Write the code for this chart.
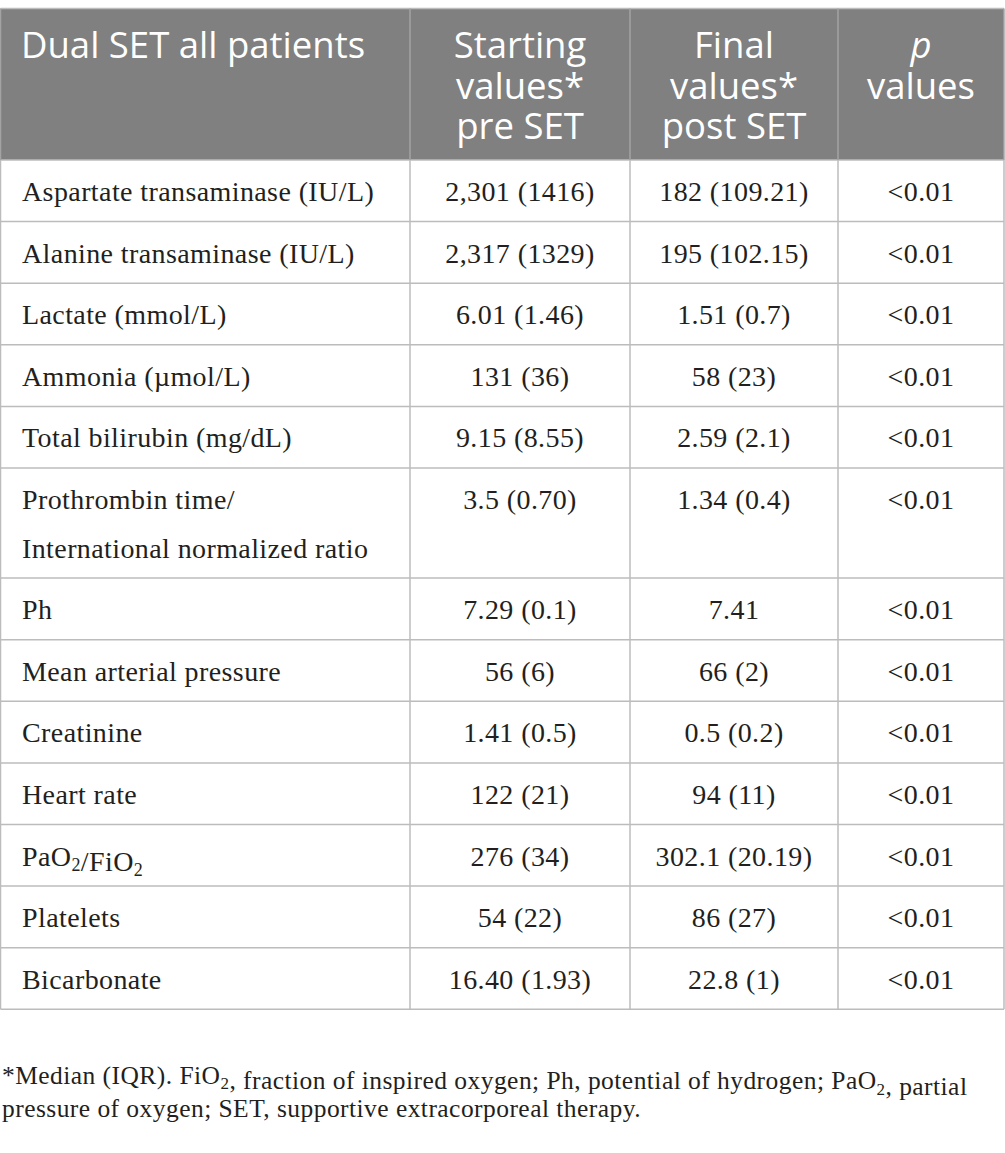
<!DOCTYPE html>
<html>
<head>
<meta charset="utf-8">
<script src="https://cdn.jsdelivr.net/npm/d3@7"></script>
<style>
  body { margin: 0; background: #fff; }
  svg { display: block; }
</style>
</head>
<body>
<div id="main-table"></div>
<script>
// table content
const headerLabels = [
  ["Dual SET all patients"],
  ["Starting", "values*", "pre SET"],
  ["Final", "values*", "post SET"],
  ["*p*", "values"],
];

// {2} marks a subscript 2
const parameters = [
  "Aspartate transaminase (IU/L)",
  "Alanine transaminase (IU/L)",
  "Lactate (mmol/L)",
  "Ammonia (µmol/L)",
  "Total bilirubin (mg/dL)",
  "Prothrombin time/\nInternational normalized ratio",
  "Ph",
  "Mean arterial pressure",
  "Creatinine",
  "Heart rate",
  "PaO{2}/FiO{2}",
  "Platelets",
  "Bicarbonate",
];

const startValues = [
  "2,301 (1416)", "2,317 (1329)", "6.01 (1.46)", "131 (36)", "9.15 (8.55)",
  "3.5 (0.70)", "7.29 (0.1)", "56 (6)", "1.41 (0.5)", "122 (21)",
  "276 (34)", "54 (22)", "16.40 (1.93)",
];

const finalValues = [
  "182 (109.21)", "195 (102.15)", "1.51 (0.7)", "58 (23)", "2.59 (2.1)",
  "1.34 (0.4)", "7.41", "66 (2)", "0.5 (0.2)", "94 (11)",
  "302.1 (20.19)", "86 (27)", "22.8 (1)",
];

const pValues = [
  "<0.01", "<0.01", "<0.01", "<0.01", "<0.01", "<0.01", "<0.01",
  "<0.01", "<0.01", "<0.01", "<0.01", "<0.01", "<0.01",
];

const footnoteLines = [
  "*Median (IQR). FiO{2}, fraction of inspired oxygen; Ph, potential of hydrogen; PaO{2}, partial",
  "pressure of oxygen; SET, supportive extracorporeal therapy.",
];

// layout
const width = 1005;
const height = 1153;
const colEdges = [0.5, 410, 630, 838, 1004];
const tableTop = 8.5;
const headerHeight = 151.5;
const baseRowHeight = 61.6;
const extraLineHeight = 48.5;
const gridColour = "#bcbcbc";
const headerColour = "#7f807f";
const textColour = "#231f20";
const serif = "'Liberation Serif', 'Times New Roman', serif";
const sans = "'Open Sans', 'Noto Sans', sans-serif";

const svg = d3
  .select("#main-table")
  .append("svg")
  .attr("width", width)
  .attr("height", height);

// rows: one entry per parameter, height grows with the number of lines
const rows = parameters.map((p, i) => ({
  label: p.split("\n"),
  cells: [startValues[i], finalValues[i], pValues[i]],
}));
const rowHeights = rows.map((r) => baseRowHeight + (r.label.length - 1) * extraLineHeight);
const rowTops = [0, ...d3.cumsum(rowHeights)].map((h) => tableTop + headerHeight + h);
const tableBottom = rowTops[rowTops.length - 1];

// column centres
const colCentre = (c) => (colEdges[c] + colEdges[c + 1]) / 2;

// write a string with {2} subscripts and *italic* parts into a text element
function addRich(textSel, str, subSize) {
  const parts = str.split(/(\{[^}]+\}|\*[^*]+\*)/).filter((s) => s.length);
  parts.forEach((part) => {
    if (part.startsWith("{")) {
      textSel
        .append("tspan")
        .attr("font-size", subSize)
        .attr("dy", subSize * 0.3)
        .text(part.slice(1, -1));
      textSel.append("tspan").attr("dy", -subSize * 0.3).text("");
    } else if (part.length > 2 && part.startsWith("*") && part.endsWith("*")) {
      textSel.append("tspan").attr("font-style", "italic").text(part.slice(1, -1));
    } else {
      textSel.append("tspan").text(part);
    }
  });
}

// header background
svg
  .append("rect")
  .attr("x", colEdges[0])
  .attr("y", tableTop)
  .attr("width", colEdges[4] - colEdges[0])
  .attr("height", headerHeight)
  .attr("fill", headerColour);

// header text
const headerLineHeight = 40.5;
headerLabels.forEach((lines, c) => {
  lines.forEach((line, k) => {
    const t = svg
      .append("text")
      .attr("x", c === 0 ? 21 : colCentre(c))
      .attr("y", tableTop + 49.5 + k * headerLineHeight)
      .attr("text-anchor", c === 0 ? "start" : "middle")
      .attr("font-family", sans)
      .attr("font-size", 36.5)
      .attr("fill", "#fff");
    addRich(t, line, 24);
  });
});

// body rows
const bodyFontSize = 28;
const bodySpacing = 0.4;
rows.forEach((r, i) => {
  const top = rowTops[i];
  r.label.forEach((line, k) => {
    const t = svg
      .append("text")
      .attr("x", 22)
      .attr("y", top + 41 + k * extraLineHeight)
      .attr("font-family", serif)
      .attr("font-size", bodyFontSize)
      .attr("letter-spacing", bodySpacing)
      .attr("fill", textColour);
    addRich(t, line, 18);
  });
  r.cells.forEach((v, c) => {
    svg
      .append("text")
      .attr("x", colCentre(c + 1))
      .attr("y", top + 41)
      .attr("text-anchor", "middle")
      .attr("font-family", serif)
      .attr("font-size", bodyFontSize)
      .attr("letter-spacing", bodySpacing)
      .attr("fill", textColour)
      .text(v);
  });
});

// grid: horizontal lines
svg
  .selectAll("line.hgrid")
  .data([tableTop, ...rowTops])
  .enter()
  .append("line")
  .attr("class", "hgrid")
  .attr("x1", colEdges[0])
  .attr("x2", colEdges[4])
  .attr("y1", (d) => d)
  .attr("y2", (d) => d)
  .attr("stroke", gridColour)
  .attr("stroke-width", 1.5);

// grid: vertical lines, lighter over the grey header
svg
  .selectAll("line.vgrid")
  .data(colEdges)
  .enter()
  .append("line")
  .attr("class", "vgrid")
  .attr("x1", (d) => d)
  .attr("x2", (d) => d)
  .attr("y1", tableTop + headerHeight)
  .attr("y2", tableBottom)
  .attr("stroke", gridColour)
  .attr("stroke-width", 1.5);

svg
  .selectAll("line.vhead")
  .data(colEdges)
  .enter()
  .append("line")
  .attr("class", "vhead")
  .attr("x1", (d) => d)
  .attr("x2", (d) => d)
  .attr("y1", tableTop)
  .attr("y2", tableTop + headerHeight)
  .attr("stroke", "#a3a3a3")
  .attr("stroke-width", 1.5);

// footnote
footnoteLines.forEach((line, k) => {
  const t = svg
    .append("text")
    .attr("x", 2)
    .attr("y", tableBottom + 75 + k * 33)
    .attr("font-family", serif)
    .attr("font-size", 25.5)
    .attr("letter-spacing", 0.45)
    .attr("fill", textColour);
  addRich(t, line, 17);
});
</script>
</body>
</html>
